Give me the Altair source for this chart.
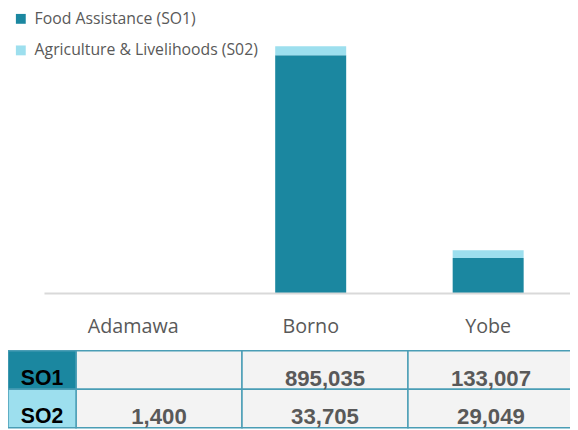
import altair as alt
import pandas as pd

# ---- data ----
counties = ["Adamawa", "Borno", "Yobe"]
so1_values = [None, 895035, 133007]
so2_values = [1400, 33705, 29049]
series_names = ["Food Assistance (SO1)", "Agriculture & Livelihoods (S02)"]
row_labels = ["SO1", "SO2"]
series_colors = ["#1b87a0", "#9ddfee"]

rows = []
for i, c in enumerate(counties):
    for j, vals in enumerate([so1_values, so2_values]):
        rows.append({"county": c, "series": series_names[j], "row": row_labels[j],
                     "order": j, "value": vals[i]})
df = pd.DataFrame(rows)
county_df = pd.DataFrame({"county": counties})
row_df = pd.DataFrame({"row": row_labels})
base_df = pd.DataFrame({"b": [0]})

GREY = "#595959"
BORDER = "#4a9db5"

# ---- bar part (shared scales) ----
bar_x_scale = alt.Scale(type="band", domain=counties, range=[37, 577],
                        paddingInner=0.6, paddingOuter=0.3)
bar_y_scale = alt.Scale(domain=[0, 1000000], range=[286.5, 16.5], nice=False)

bars = alt.Chart(df).transform_filter("isValid(datum.value)").mark_bar().encode(
    x=alt.X("county:N", scale=bar_x_scale, axis=None),
    y=alt.Y("value:Q", stack="zero", scale=bar_y_scale, axis=None),
    color=alt.Color("series:N", scale=alt.Scale(domain=series_names, range=series_colors),
                    legend=alt.Legend(title=None, orient="none", legendX=5, legendY=0,
                                      symbolType="square", symbolSize=100,
                                      symbolStrokeWidth=0, labelFont="Open Sans",
                                      labelFontSize=16, labelColor=GREY, labelOffset=6,
                                      labelLimit=0, rowPadding=16, padding=0,
                                      symbolOffset=0)),
    order=alt.Order("order:Q"),
)

baseline = alt.Chart(base_df).mark_rule(color="#d9d9d9", strokeWidth=2).encode(
    x=alt.value(37), x2=alt.value(570),
    y=alt.Y("b:Q", scale=bar_y_scale, axis=None),
)

cat_labels = alt.Chart(county_df).mark_text(
    font="Open Sans", fontSize=20, color=GREY, baseline="alphabetic"
).encode(
    x=alt.X("county:N", scale=bar_x_scale, axis=None, bandPosition=0.5),
    y=alt.value(327),
    text="county:N",
)

top = alt.layer(bars, baseline, cat_labels)

# ---- table part ----
tab_x_scale = alt.Scale(type="band", domain=counties, range=[69, 574],
                        paddingInner=0, paddingOuter=0)
tab_y_scale = alt.Scale(type="band", domain=row_labels, range=[344.7, 422.7],
                        paddingInner=0, paddingOuter=0)

cells = alt.Chart(df).mark_rect(fill="#f3f3f3", stroke=BORDER, strokeWidth=1.5).encode(
    x=alt.X("county:N", scale=tab_x_scale, axis=None),
    y=alt.Y("row:N", scale=tab_y_scale, axis=None),
)

hdr_cells = alt.Chart(row_df).mark_rect(stroke=BORDER, strokeWidth=1.5).encode(
    x=alt.value(0), x2=alt.value(69),
    y=alt.Y("row:N", scale=tab_y_scale, axis=None),
    fill=alt.Fill("row:N", scale=alt.Scale(domain=row_labels, range=series_colors), legend=None),
)

val_text = alt.Chart(df).transform_filter("isValid(datum.value)").mark_text(
    font="Liberation Sans", fontSize=22.5, fontWeight="bold", color=GREY,
    baseline="alphabetic", dy=16
).encode(
    x=alt.X("county:N", scale=tab_x_scale, axis=None, bandPosition=0.5),
    y=alt.Y("row:N", scale=tab_y_scale, axis=None, bandPosition=0.5),
    text=alt.Text("value:Q", format=","),
)

hdr_text = alt.Chart(row_df).mark_text(
    font="Liberation Sans", fontSize=21.5, fontWeight="bold", color="#000000",
    baseline="alphabetic", dy=15
).encode(
    x=alt.value(34.5),
    y=alt.Y("row:N", scale=tab_y_scale, axis=None, bandPosition=0.5),
    text="row:N",
)

table = alt.layer(cells, hdr_cells, val_text, hdr_text)

chart = alt.layer(top, table).resolve_scale(
    x="independent", y="independent", color="independent", fill="independent"
).properties(
    width=570, height=422, padding=0, background="white",
    autosize=alt.AutoSizeParams(type="none"),
).configure_view(stroke=None)

chart.save("out.html", embed_options={"renderer": "svg", "actions": False})
